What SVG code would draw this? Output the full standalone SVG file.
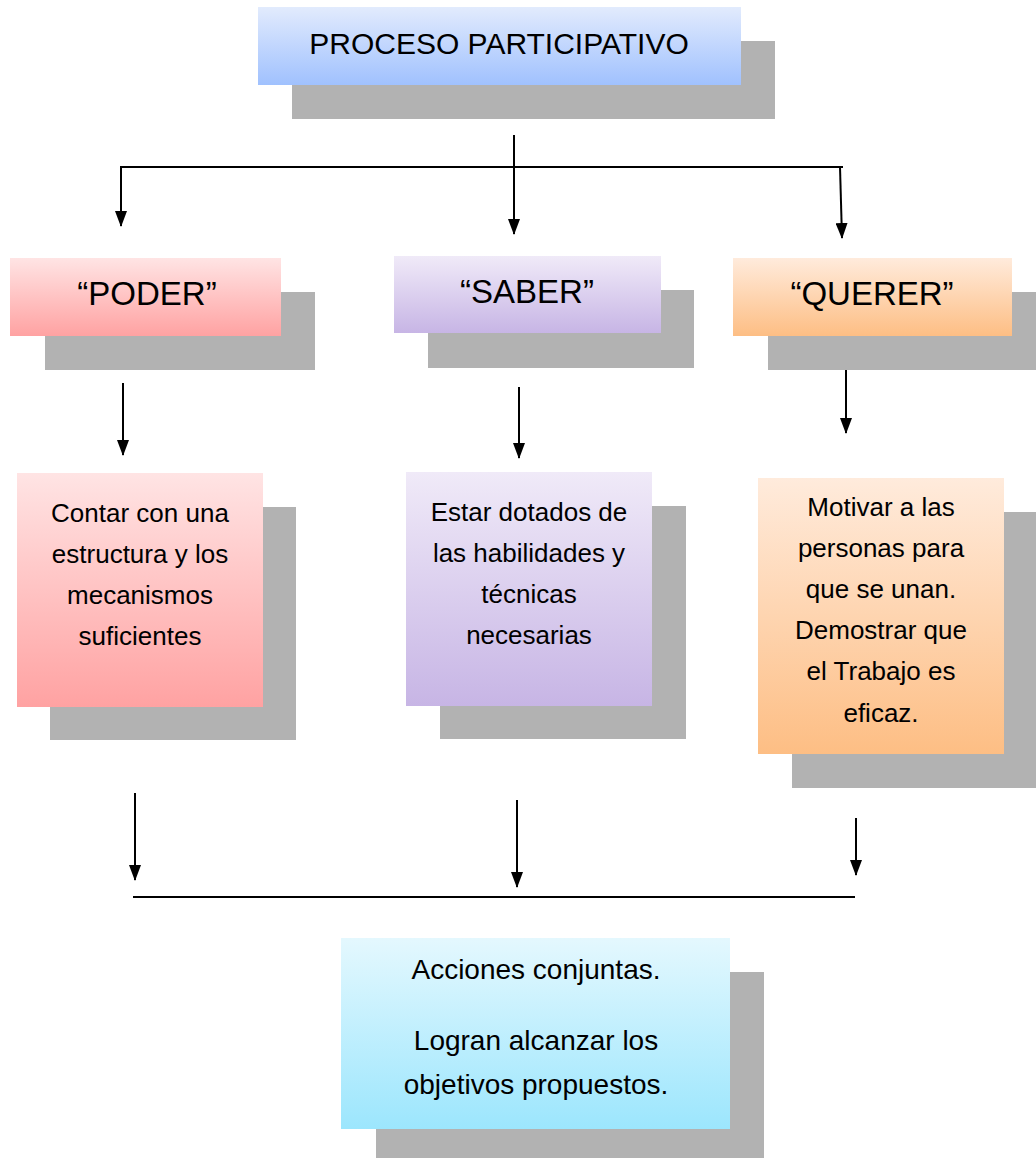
<svg xmlns="http://www.w3.org/2000/svg" width="1036" height="1158" viewBox="0 0 1036 1158">
<style>
.sh{fill:#b2b2b2}
.t{font-family:"Liberation Sans",Arial,sans-serif;fill:#000;text-anchor:middle}
.h{font-size:33px}
.b{font-size:26px}
.c{stroke:#000;stroke-width:2;fill:none}
.a{marker-end:url(#ah)}
</style>
<defs>
<linearGradient id="gBlue" x1="0" y1="0" x2="0" y2="1"><stop offset="0" stop-color="#e2ebfd"/><stop offset="1" stop-color="#a0c1fe"/></linearGradient>
<linearGradient id="gRed" x1="0" y1="0" x2="0" y2="1"><stop offset="0" stop-color="#ffe4e4"/><stop offset="1" stop-color="#ffa2a2"/></linearGradient>
<linearGradient id="gPur" x1="0" y1="0" x2="0" y2="1"><stop offset="0" stop-color="#f0eaf8"/><stop offset="1" stop-color="#c7b5e5"/></linearGradient>
<linearGradient id="gOr" x1="0" y1="0" x2="0" y2="1"><stop offset="0" stop-color="#ffebdc"/><stop offset="1" stop-color="#fdbe84"/></linearGradient>
<linearGradient id="gCy" x1="0" y1="0" x2="0" y2="1"><stop offset="0" stop-color="#e4f8fe"/><stop offset="1" stop-color="#9ce6fd"/></linearGradient>
<marker id="ah" markerWidth="16" markerHeight="12" refX="15" refY="6" orient="auto" markerUnits="userSpaceOnUse" viewBox="0 0 16 12">
<path d="M0,0 L16,6 L0,12 Z" fill="#000"/>
</marker>
</defs>

<g id="connectors">
<line class="c a" x1="514" y1="135" x2="514" y2="234"/>
<polyline class="c a" points="843,167 121,167 121,226"/>
<line class="c a" x1="840" y1="167" x2="842" y2="238"/>

<line class="c a" x1="123" y1="383" x2="123" y2="455"/>
<line class="c a" x1="519" y1="387" x2="519" y2="458"/>
<line class="c a" x1="846" y1="361" x2="846" y2="433"/>

<line class="c a" x1="135" y1="793" x2="135" y2="880"/>
<line class="c a" x1="517" y1="800" x2="517" y2="887"/>
<line class="c a" x1="856" y1="818" x2="856" y2="875"/>

<line class="c" x1="133" y1="897" x2="855" y2="897"/>
</g>

<g id="n-proceso">
<rect class="sh" x="292" y="41" width="483" height="78"/>
<rect x="258" y="7" width="483" height="78" fill="url(#gBlue)"/>
<text class="t" x="499" y="54" font-size="30">PROCESO PARTICIPATIVO</text>
</g>

<g id="n-poder">
<rect class="sh" x="45" y="292" width="270" height="78"/>
<rect x="10" y="258" width="271" height="78" fill="url(#gRed)"/>
<text class="t h" x="147" y="305">“PODER”</text>
</g>

<g id="n-saber">
<rect class="sh" x="428" y="290" width="266" height="78"/>
<rect x="394" y="256" width="267" height="77" fill="url(#gPur)"/>
<text class="t h" x="527" y="303">“SABER”</text>
</g>

<g id="n-querer">
<rect class="sh" x="768" y="292" width="268" height="78"/>
<rect x="733" y="258" width="279" height="78" fill="url(#gOr)"/>
<text class="t h" x="872" y="305">“QUERER”</text>
</g>

<g id="n-contar">
<rect class="sh" x="50" y="507" width="246" height="233"/>
<rect x="17" y="473" width="246" height="234" fill="url(#gRed)"/>
<text class="t b" x="140" y="522">Contar con una</text>
<text class="t b" x="140" y="563">estructura y los</text>
<text class="t b" x="140" y="604">mecanismos</text>
<text class="t b" x="140" y="645">suficientes</text>
</g>

<g id="n-estar">
<rect class="sh" x="440" y="506" width="246" height="233"/>
<rect x="406" y="472" width="246" height="234" fill="url(#gPur)"/>
<text class="t b" x="529" y="521">Estar dotados de</text>
<text class="t b" x="529" y="562">las habilidades y</text>
<text class="t b" x="529" y="603">técnicas</text>
<text class="t b" x="529" y="644">necesarias</text>
</g>

<g id="n-motivar">
<rect class="sh" x="792" y="512" width="244" height="276"/>
<rect x="758" y="478" width="246" height="276" fill="url(#gOr)"/>
<text class="t b" x="881" y="516">Motivar a las</text>
<text class="t b" x="881" y="557">personas para</text>
<text class="t b" x="881" y="598">que se unan.</text>
<text class="t b" x="881" y="639">Demostrar que</text>
<text class="t b" x="881" y="680">el Trabajo es</text>
<text class="t b" x="881" y="722">eficaz.</text>
</g>

<g id="n-acciones">
<rect class="sh" x="376" y="972" width="388" height="186"/>
<rect x="341" y="938" width="389" height="191" fill="url(#gCy)"/>
<text class="t" font-size="28" x="536" y="979">Acciones conjuntas.</text>
<text class="t" font-size="28" x="536" y="1050">Logran alcanzar los</text>
<text class="t" font-size="28" x="536" y="1094">objetivos propuestos.</text>
</g>
</svg>
